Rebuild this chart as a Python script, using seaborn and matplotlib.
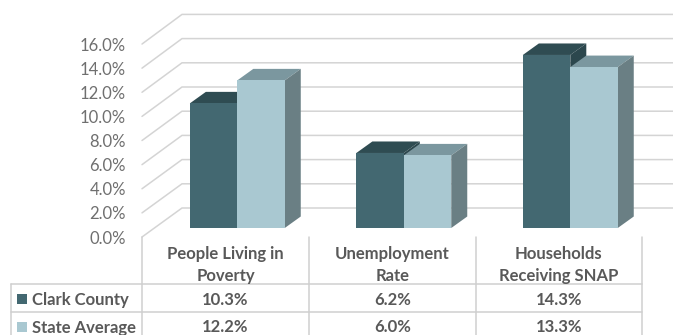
"""Clark County vs state average, drawn as a fake 3D column chart with a data table."""
import matplotlib
matplotlib.use("Agg")
import matplotlib.pyplot as plt
from matplotlib.patches import Polygon, Rectangle
import pandas as pd
import seaborn as sns

categories = ["People Living in\nPoverty", "Unemployment\nRate", "Households\nReceiving SNAP"]
series_names = ["Clark County", "State Average"]
clark_county = [10.3, 6.2, 14.3]
state_average = [12.2, 6.0, 13.3]
y_ticks = [0, 2, 4, 6, 8, 10, 12, 14, 16]

W, H = 673, 335
PX_PER_CAT = 166.5
PX_PER_UNIT = 12.1
FIRST_CAT_PX = 237.3
BASE_PX = 228.0

GRID = "#d4d4d4"
TABLE_LINE = "#cfcfcf"
FRONT = ["#436871", "#a9c8d1"]
TOP = ["#2f4c52", "#7b979f"]
SIDE = ["#2c474d", "#6a7f84"]


# pixel position in the picture -> data coordinates
def px(x):
    return (x - FIRST_CAT_PX) / PX_PER_CAT


def py(y):
    return (BASE_PX - y) / PX_PER_UNIT


sns.set_theme(style="white")
plt.rcParams["font.family"] = ["Lato", "DejaVu Sans"]

df = pd.DataFrame({
    "category": categories * 2,
    "series": [series_names[0]] * 3 + [series_names[1]] * 3,
    "value": clark_county + state_average,
})

fig = plt.figure(figsize=(W / 100, H / 100), dpi=100)
ax = fig.add_axes([0, 0, 1, 1])

sns.barplot(data=df, x="category", y="value", hue="series", hue_order=series_names,
            palette=FRONT, saturation=1, width=0.57, gap=0, legend=False, ax=ax)
ax.set_xlim(px(0), px(W))
ax.set_ylim(py(H), py(0))
ax.axis("off")

# back and left walls of the chart box
for v in y_ticks:
    back_y = 208 - v * PX_PER_UNIT
    front_y = 237 - v * 12.06
    ax.plot([px(142), px(182), px(W)], [py(front_y), py(back_y), py(back_y)],
            color=GRID, lw=1.1, zorder=1, solid_joinstyle="miter")
    ax.text(px(126), py(front_y + 1.5), f"{v:.1f}%", ha="right", va="center",
            fontsize=12, color="#6f6f6f")

# depth faces for each column
dx = 16 / PX_PER_CAT
dy = 11.5 / PX_PER_UNIT
for i, container in enumerate(ax.containers):
    for bar in container:
        x0, x1, h = bar.get_x(), bar.get_x() + bar.get_width(), bar.get_height()
        bar.set_zorder(2.5 + i * 2)
        bar.set_edgecolor("none")
        ax.add_patch(Polygon([(x0, h), (x1, h), (x1 + dx, h + dy), (x0 + dx, h + dy)],
                             closed=True, fc=TOP[i], ec="none", zorder=2 + i * 2))
        ax.add_patch(Polygon([(x1, 0), (x1 + dx, dy), (x1 + dx, h + dy), (x1, h)],
                             closed=True, fc=SIDE[i], ec="none", zorder=2 + i * 2))

# data table below the plot
col_edges = [142, 309, 475.7, 642]
col_centers = [(a + b) / 2 for a, b in zip(col_edges[:-1], col_edges[1:])]
for x in col_edges:
    ax.plot([px(x), px(x)], [py(237), py(H)], color=TABLE_LINE, lw=1.1, zorder=1)
ax.plot([px(11), px(11)], [py(284.3), py(H)], color=TABLE_LINE, lw=1.1, zorder=1)
for y in [284.3, 312.3]:
    ax.plot([px(11), px(642)], [py(y), py(y)], color=TABLE_LINE, lw=1.1, zorder=1)

TEXT = "#595959"
for cx, cat in zip(col_centers, categories):
    ax.text(px(cx), py(265), cat, ha="center", va="center", fontsize=12, fontweight="bold",
            color=TEXT, linespacing=1.4)

rows = [clark_county, state_average]
row_y = [300, 327.5]
for r, name in enumerate(series_names):
    ax.add_patch(Rectangle((px(17), py(row_y[r] + 4)), 10 / PX_PER_CAT, 10 / PX_PER_UNIT,
                           fc=FRONT[r], ec="none"))
    ax.text(px(32), py(row_y[r]), name, ha="left", va="center", fontsize=12,
            fontweight="bold", color=TEXT)
    for cx, val in zip(col_centers, rows[r]):
        ax.text(px(cx), py(row_y[r]), f"{val:.1f}%", ha="center", va="center", fontsize=12,
                fontweight="bold", color=TEXT)

fig.savefig("out.png", dpi=100, facecolor="white")
plt.close(fig)
